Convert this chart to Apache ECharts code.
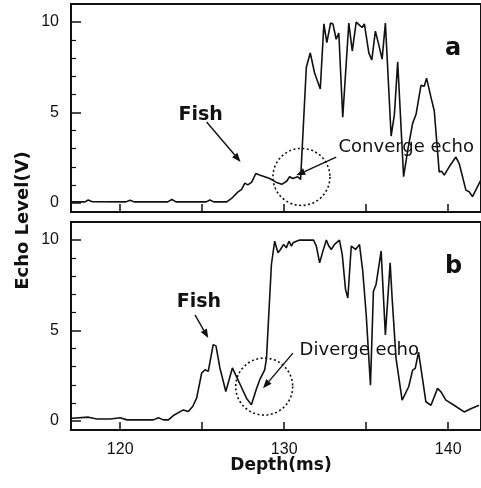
<!DOCTYPE html>
<html>
<head>
<meta charset="utf-8">
<script src="https://cdn.jsdelivr.net/npm/echarts@6/dist/echarts.min.js"></script>
<style>
  html, body { margin: 0; padding: 0; background: #fff; }
  #main { width: 481px; height: 488px; }
</style>
</head>
<body>
<div id="main"></div>
<script>
// Panel a: converge echo
const depthA = [117.0, 117.85, 118.05, 118.3, 120.35, 120.6, 120.85, 122.9, 123.15, 123.4,
  125.25, 125.47, 125.7, 126.5, 126.85, 127.17, 127.4, 127.6, 127.78, 128.02,
  128.27, 128.5, 129.12, 129.5, 129.85, 130.15, 130.33, 130.52, 130.82, 131.0,
  131.35, 131.59, 131.85, 132.2, 132.42, 132.6, 132.83, 132.97, 133.17, 133.33,
  133.57, 133.94, 134.15, 134.39, 134.59, 134.75, 134.89, 135.16, 135.34, 135.56,
  135.76, 135.97, 136.17, 136.52, 136.72, 136.92, 137.28, 137.53, 137.83, 138.04,
  138.34, 138.54, 138.68, 138.95, 139.15, 139.45, 139.6, 139.76, 140.06, 140.47,
  140.67, 141.08, 141.28, 141.48, 141.99];
const echoA = [0.06, 0.06, 0.16, 0.07, 0.06, 0.15, 0.06, 0.06, 0.2, 0.06,
  0.06, 0.16, 0.06, 0.06, 0.3, 0.6, 0.75, 1.1, 1.0, 1.15,
  1.63, 1.55, 1.35, 1.15, 1.03, 1.2, 1.45, 1.35, 1.45, 1.3,
  7.5, 8.3, 7.2, 6.3, 9.9, 8.86, 9.95, 9.9, 9.05, 9.4,
  4.74, 9.95, 8.4, 10.0, 9.83, 9.7, 9.9, 8.3, 7.9, 9.5,
  8.77, 7.95, 9.95, 3.7, 4.9, 7.8, 1.45, 2.9, 4.4, 4.9,
  6.5, 6.45, 6.9, 5.84, 5.1, 1.72, 1.75, 1.54, 2.0, 2.54,
  2.18, 0.71, 0.62, 0.35, 1.26];

// Panel b: diverge echo
const depthB = [117.06, 118.07, 118.58, 119.39, 120.0, 120.41, 122.02, 122.33, 122.63, 122.94,
  123.24, 123.85, 124.15, 124.42, 124.66, 124.97, 125.17, 125.37, 125.67, 125.84,
  126.08, 126.44, 126.84, 127.09, 127.4, 127.7, 128.0, 128.3, 128.51, 128.81,
  128.92, 129.22, 129.42, 129.62, 129.77, 129.97, 130.13, 130.29, 130.44, 130.54,
  130.74, 130.94, 131.79, 131.96, 132.16, 132.36, 132.57, 132.72, 132.87, 133.07,
  133.37, 133.54, 133.74, 133.88, 134.09, 134.35, 134.59, 134.79, 135.0, 135.26,
  135.44, 135.6, 135.91, 136.17, 136.46, 136.58, 136.82, 137.19, 137.59, 137.83,
  137.99, 138.19, 138.34, 138.64, 138.95, 139.35, 139.56, 139.86, 140.36, 140.97,
  141.38, 141.88];
const echoB = [0.15, 0.21, 0.11, 0.11, 0.18, 0.06, 0.06, 0.18, 0.06, 0.06,
  0.3, 0.61, 0.52, 0.8, 1.26, 2.65, 2.83, 2.74, 4.22, 4.15,
  2.93, 1.63, 2.93, 2.45, 1.85, 1.26, 0.89, 1.75, 2.28, 2.83,
  3.46, 8.65, 9.94, 9.3, 9.48, 9.76, 9.57, 9.94, 9.67, 9.85,
  9.94, 10.0, 10.0, 9.67, 8.74, 9.39, 10.0, 9.67, 9.48, 9.76,
  10.0, 9.2, 7.26, 6.8, 9.67, 9.48, 9.76, 8.28, 5.87, 1.98,
  7.17, 7.54, 9.39, 4.76, 8.74, 6.8, 3.46, 1.15, 1.89, 2.81,
  2.91, 3.8, 2.91, 1.06, 0.87, 1.8, 1.61, 1.15, 0.87, 0.5,
  0.68, 0.87];

// Axis ticks and labels
const xTickValues = [120, 125, 130, 135, 140];
const xLabelValues = [120, 130, 140];
const yMajorValues = [0, 5, 10];
const yMinorValues = [1, 2, 3, 4, 6, 7, 8, 9];

// Annotations, anchored in data units (depth ms, volts)
const notesA = {
  panel: 'a',
  fishText: [124.9, 4.85], fishFrom: [125.27, 4.48], fishTo: [127.34, 2.27],
  echoLabel: 'Converge echo', echoText: [133.31, 3.09], echoFrom: [133.17, 2.54], echoTo: [130.74, 1.53],
  ring: [131.05, 1.44], letterPos: [140.3, 8.55]
};
const notesB = {
  panel: 'b',
  fishText: [124.8, 6.56], fishFrom: [124.56, 5.87], fishTo: [125.37, 4.58],
  echoLabel: 'Diverge echo', echoText: [130.94, 3.88], echoFrom: [130.53, 3.75], echoTo: [128.71, 1.81],
  ring: [128.78, 1.9], letterPos: [140.33, 8.53]
};

const INK = '#111';
const TICK_FONT = 'Liberation Sans';
const TEXT_FONT = 'DejaVu Sans';

const pairs = (xs, ys) => xs.map((x, i) => [x, ys[i]]);

function xAxisFor(gridIndex, showLabels) {
  return {
    type: 'value', gridIndex, min: 117, max: 142,
    axisLine: { show: true, onZero: false, lineStyle: { color: INK, width: 2 } },
    axisTick: { show: true, inside: true, length: 8, customValues: xTickValues,
      lineStyle: { color: INK, width: 1.5 } },
    axisLabel: { show: showLabels, customValues: xLabelValues, margin: 12,
      fontSize: 16, fontFamily: TICK_FONT, color: INK },
    splitLine: { show: false }
  };
}

function yAxesFor(gridIndex) {
  return [
    {
      type: 'value', gridIndex, min: -0.5, max: 11, position: 'left',
      axisLine: { show: true, onZero: false, lineStyle: { color: INK, width: 2 } },
      axisTick: { show: true, inside: true, length: 10, customValues: yMajorValues,
        lineStyle: { color: INK, width: 1.5 } },
      axisLabel: { show: true, customValues: yMajorValues, margin: 12,
        fontSize: 16, fontFamily: TICK_FONT, color: INK },
      splitLine: { show: false }
    },
    {
      type: 'value', gridIndex, min: -0.5, max: 11, position: 'left',
      axisLine: { show: false },
      axisTick: { show: true, inside: true, length: 5, customValues: yMinorValues,
        lineStyle: { color: INK, width: 1.2 } },
      axisLabel: { show: false },
      splitLine: { show: false }
    }
  ];
}

const frame = { show: true, borderColor: INK, borderWidth: 2, backgroundColor: 'transparent' };

const chart = echarts.init(document.getElementById('main'), null, { renderer: 'canvas' });

chart.setOption({
  animation: false,
  backgroundColor: '#fff',
  grid: [
    Object.assign({ left: 71, top: 4, right: -1, height: 208 }, frame),
    Object.assign({ left: 71, top: 222, right: -1, height: 208 }, frame)
  ],
  xAxis: [xAxisFor(0, false), xAxisFor(1, true)],
  yAxis: yAxesFor(0).concat(yAxesFor(1)),
  series: [
    { type: 'line', xAxisIndex: 0, yAxisIndex: 0, data: pairs(depthA, echoA),
      showSymbol: false, lineStyle: { color: INK, width: 1.6 }, z: 3 },
    { type: 'line', xAxisIndex: 1, yAxisIndex: 2, data: pairs(depthB, echoB),
      showSymbol: false, lineStyle: { color: INK, width: 1.6 }, z: 3 }
  ]
});

function arrow(p0, p1) {
  const dx = p1[0] - p0[0], dy = p1[1] - p0[1];
  const len = Math.hypot(dx, dy), ux = dx / len, uy = dy / len;
  const head = 9, half = 3.5;
  const bx = p1[0] - ux * head, by = p1[1] - uy * head;
  return [
    { type: 'line', z: 10, shape: { x1: p0[0], y1: p0[1], x2: bx, y2: by },
      style: { stroke: INK, lineWidth: 1.4 } },
    { type: 'polygon', z: 10,
      shape: { points: [[p1[0], p1[1]], [bx - uy * half, by + ux * half], [bx + uy * half, by - ux * half]] },
      style: { fill: INK } }
  ];
}

function label(pos, text, size, weight, align) {
  return { type: 'text', z: 10, x: pos[0], y: pos[1],
    style: { text, fontSize: size, fontFamily: TEXT_FONT, fontWeight: weight,
      fill: INK, align: align, verticalAlign: 'middle' } };
}

function panelGraphics(seriesIndex, n) {
  const px = p => chart.convertToPixel({ seriesIndex }, p);
  const ring = px(n.ring);
  return [
    label(px(n.fishText), 'Fish', 19, 'bold', 'center'),
    ...arrow(px(n.fishFrom), px(n.fishTo)),
    label(px(n.echoText), n.echoLabel, 18, 'normal', 'left'),
    ...arrow(px(n.echoFrom), px(n.echoTo)),
    { type: 'circle', z: 10, shape: { cx: ring[0], cy: ring[1], r: 28.5 },
      style: { fill: 'none', stroke: INK, lineWidth: 1.6, lineDash: [2, 2.5] } },
    label(px(n.letterPos), n.panel, 24, 'bold', 'center')
  ];
}

chart.setOption({
  graphic: [
    ...panelGraphics(0, notesA),
    ...panelGraphics(1, notesB),
    { type: 'text', z: 10, x: 281, y: 466,
      style: { text: 'Depth(ms)', fontSize: 17, fontFamily: TEXT_FONT, fontWeight: 'bold',
        fill: INK, align: 'center', verticalAlign: 'middle' } },
    { type: 'text', z: 10, x: 23.5, y: 220.5, rotation: Math.PI / 2,
      style: { text: 'Echo Level(V)', fontSize: 18, fontFamily: TEXT_FONT, fontWeight: 'bold',
        fill: INK, align: 'center', verticalAlign: 'middle' } }
  ]
});
</script>
</body>
</html>
